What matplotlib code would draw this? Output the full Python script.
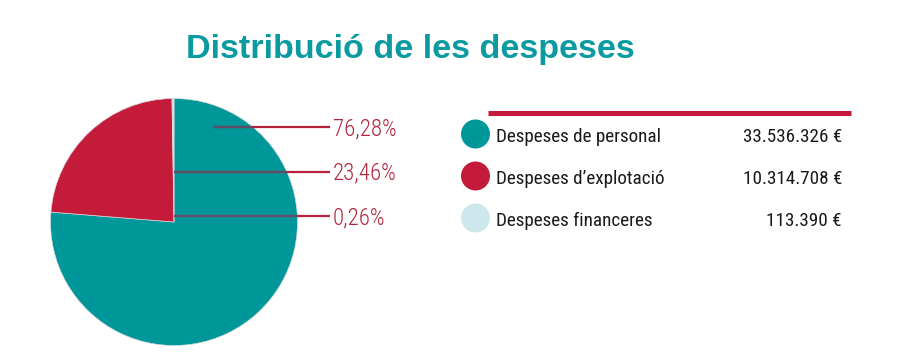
import matplotlib
matplotlib.use("Agg")
import matplotlib.pyplot as plt
from matplotlib.patches import Circle

# ---- data ----
categories = ["Despeses de personal", "Despeses d\u2019explotació", "Despeses financeres"]
values = [33536326, 10314708, 113390]
value_labels = ["33.536.326 \u20ac", "10.314.708 \u20ac", "113.390 \u20ac"]
colors = ["#00979b", "#c41b3b", "#cde8ec"]
title = "Distribució de les despeses"

light_props = dict(family="Roboto Condensed", fontweight="light")
legend_props = dict(family="Roboto Condensed", fontweight="normal")
bold_font = "Liberation Sans"

W, H = 908, 364
fig = plt.figure(figsize=(W / 100, H / 100), dpi=100)
fig.patch.set_facecolor("white")

# ---- pie ----
cx, cy, r = 174, 222, 123.5
ax_p = fig.add_axes([(cx - r) / W, (H - cy - r) / H, 2 * r / W, 2 * r / H])
wedges, _ = ax_p.pie(values, colors=colors, startangle=90, counterclock=False,
                     radius=1, wedgeprops=dict(edgecolor="#d8d8d8", linewidth=0.5))
ax_p.set_xlim(-1, 1)
ax_p.set_ylim(-1, 1)
ax_p.set_aspect("equal")
ax_p.axis("off")

# ---- overlay in pixel coords ----
ax = fig.add_axes([0, 0, 1, 1], zorder=5)
ax.set_xlim(0, W)
ax.set_ylim(H, 0)
ax.axis("off")

total = sum(values)
pcts = [v / total * 100 for v in values]
pct_txt = [f"{p:.2f}%".replace(".", ",") for p in pcts]

line_red = "#b8223e"
line_y = [127, 171.5, 216]
line_x0 = [213, 174, 174]
clip = Circle((0, 0), 1.0, transform=ax_p.transData)
for i in range(3):
    ax.plot([line_x0[i], 330], [line_y[i], line_y[i]], color=line_red, lw=1.6,
            solid_capstyle="butt")
    l2, = ax.plot([line_x0[i], 330], [line_y[i], line_y[i]], color="#5e4f66", lw=1.6,
                  solid_capstyle="butt")
    l2.set_clip_path(clip)
    ax.text(333, line_y[i] + 8.5, pct_txt[i], color="#b3273f", fontsize=16.5,
            ha="left", va="baseline", **light_props)

# title
ax.text(410.5, 58, title, color="#0a9aa0", fontsize=24.6, fontweight="bold",
        family=bold_font, ha="center", va="baseline")

# legend
ax.plot([488, 851], [112.5, 112.5], color="#c41b3b", lw=3.6, solid_capstyle="butt")
row_y = [134, 176, 218]
ax.scatter([475.5] * 3, row_y, s=(2 * 14.5 * 0.72) ** 2, c=colors, linewidths=0)
for i in range(3):
    ax.text(496, row_y[i] + 8, categories[i], color="#1a1a1a", fontsize=13.8,
            ha="left", va="baseline", **legend_props)
    ax.text(842, row_y[i] + 8, value_labels[i], color="#1a1a1a", fontsize=13.8,
            ha="right", va="baseline", **legend_props)

fig.savefig("out.png", dpi=100, facecolor="white")
